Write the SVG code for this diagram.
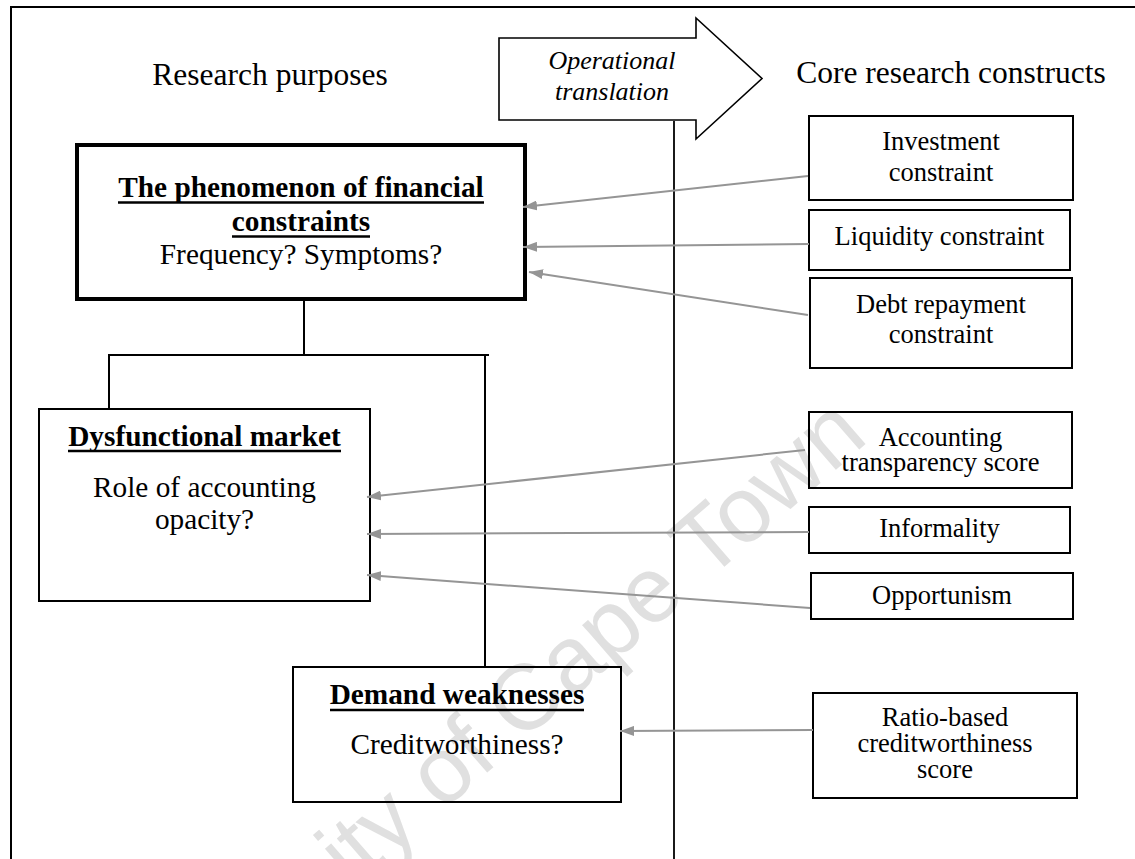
<svg xmlns="http://www.w3.org/2000/svg" width="1135" height="859" viewBox="0 0 1135 859">
  <style>
    .serif { font-family: "Liberation Serif", "Times New Roman", serif; fill: #000; }
    .title { font-size: 31.5px; }
    .body { font-size: 29.3px; }
    .head { font-size: 29.3px; font-weight: bold; }
    .small { font-size: 26.5px; }
    .ital { font-size: 26px; font-style: italic; }
    .box { fill: none; stroke: #000; stroke-width: 2; }
    .thick { fill: none; stroke: #000; stroke-width: 4; }
    .rule { stroke: #000; stroke-width: 2; fill: none; }
    .uline { stroke: #000; stroke-width: 2.6; }
    .link { stroke: #959595; stroke-width: 2; fill: none; marker-end: url(#head); }
    .wm { font-family: "Liberation Sans", Arial, sans-serif; font-size: 93px; fill: #e0e0e0; }
  </style>
  <defs>
    <marker id="head" viewBox="0 0 14 10" refX="14" refY="5" markerWidth="14" markerHeight="10" markerUnits="userSpaceOnUse" orient="auto">
      <path d="M0,0 L14,5 L0,10 Z" fill="#959595"/>
    </marker>
  </defs>

  <!-- background and watermark -->
  <rect x="0" y="0" width="1135" height="859" fill="#fff"/>
  <text class="wm" text-anchor="end" transform="translate(870,440) rotate(-41)">University of Cape Town</text>

  <!-- page frame (open at right and bottom) -->
  <path class="rule" d="M11,859 V7 H1135" stroke-width="1.6"/>

  <!-- column headings -->
  <text class="serif title" x="270" y="85" text-anchor="middle">Research purposes</text>
  <text class="serif title" x="951" y="83" text-anchor="middle">Core research constructs</text>

  <!-- operational translation arrow and divider -->
  <g id="translation">
    <polygon points="499,38 696,38 696,18 762,78.5 696,139 696,120 499,120" fill="#fff" stroke="#000" stroke-width="1.6"/>
    <text class="serif ital" x="612" y="69" text-anchor="middle">Operational</text>
    <text class="serif ital" x="612" y="100" text-anchor="middle">translation</text>
  </g>
  <line id="divider" x1="674" y1="121" x2="674" y2="859" stroke="#000" stroke-width="1.8"/>

  <!-- research purposes -->
  <g id="phenomenon">
    <rect class="thick" x="77" y="145" width="448" height="154"/>
    <text class="serif head" x="301" y="197" text-anchor="middle">The phenomenon of financial</text>
    <line class="uline" x1="118" y1="202.5" x2="484" y2="202.5"/>
    <text class="serif head" x="301" y="231" text-anchor="middle">constraints</text>
    <line class="uline" x1="232" y1="236.5" x2="370" y2="236.5"/>
    <text class="serif body" x="301" y="264" text-anchor="middle">Frequency? Symptoms?</text>
  </g>

  <g id="dysfunctional">
    <rect class="box" x="39" y="409" width="331" height="192"/>
    <text class="serif head" x="204.5" y="446" text-anchor="middle">Dysfunctional market</text>
    <line class="uline" x1="68" y1="451" x2="341" y2="451"/>
    <text class="serif body" x="204.5" y="497" text-anchor="middle">Role of accounting</text>
    <text class="serif body" x="204.5" y="529" text-anchor="middle">opacity?</text>
  </g>

  <g id="demand">
    <rect class="box" x="293" y="667" width="328" height="135"/>
    <text class="serif head" x="457" y="704" text-anchor="middle">Demand weaknesses</text>
    <line class="uline" x1="330" y1="710" x2="584" y2="710"/>
    <text class="serif body" x="457" y="754" text-anchor="middle">Creditworthiness?</text>
  </g>

  <!-- core research constructs -->
  <g id="investment">
    <rect class="box" x="809" y="116" width="264" height="84"/>
    <text class="serif small" x="941" y="150" text-anchor="middle">Investment</text>
    <text class="serif small" x="941" y="181" text-anchor="middle">constraint</text>
  </g>
  <g id="liquidity">
    <rect class="box" x="809" y="210" width="261" height="60"/>
    <text class="serif small" x="939.5" y="245" text-anchor="middle">Liquidity constraint</text>
  </g>
  <g id="debt">
    <rect class="box" x="810" y="278" width="262" height="90"/>
    <text class="serif small" x="941" y="313" text-anchor="middle">Debt repayment</text>
    <text class="serif small" x="941" y="343" text-anchor="middle">constraint</text>
  </g>
  <g id="transparency">
    <rect class="box" x="809" y="412" width="263" height="76"/>
    <text class="serif small" x="940.5" y="446" text-anchor="middle">Accounting</text>
    <text class="serif small" x="940.5" y="471" text-anchor="middle">transparency score</text>
  </g>
  <g id="informality">
    <rect class="box" x="809" y="507" width="261" height="46"/>
    <text class="serif small" x="939.5" y="537" text-anchor="middle">Informality</text>
  </g>
  <g id="opportunism">
    <rect class="box" x="811" y="573" width="262" height="46"/>
    <text class="serif small" x="942" y="604" text-anchor="middle">Opportunism</text>
  </g>
  <g id="ratio">
    <rect class="box" x="813" y="693" width="264" height="105"/>
    <text class="serif small" x="945" y="726" text-anchor="middle">Ratio-based</text>
    <text class="serif small" x="945" y="752" text-anchor="middle">creditworthiness</text>
    <text class="serif small" x="945" y="778" text-anchor="middle">score</text>
  </g>

  <!-- connectors -->
  <g id="connectors">
    <!-- hierarchy of research purposes -->
    <path class="rule" d="M304,301 V355 M108,355 H489 M109,355 V409 M485,355 V667"/>
    <!-- construct to purpose links -->
    <line class="link" x1="808" y1="176" x2="523" y2="207"/>
    <line class="link" x1="809" y1="244" x2="523" y2="247"/>
    <line class="link" x1="808" y1="315" x2="529" y2="272"/>
    <line class="link" x1="805" y1="450" x2="367" y2="497"/>
    <line class="link" x1="809" y1="532" x2="367" y2="534"/>
    <line class="link" x1="810" y1="608" x2="367" y2="575"/>
    <line class="link" x1="813" y1="730" x2="620" y2="731"/>
  </g>
</svg>
